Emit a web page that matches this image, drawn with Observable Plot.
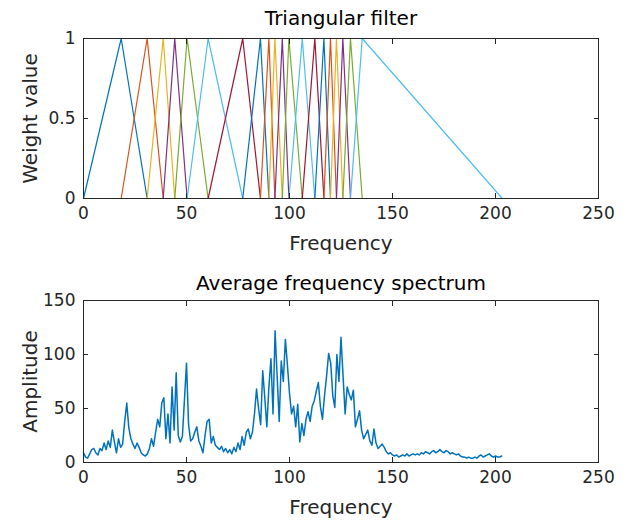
<!DOCTYPE html>
<html><head><meta charset="utf-8">
<script src="https://cdn.jsdelivr.net/npm/d3@7"></script>
<script src="https://cdn.jsdelivr.net/npm/@observablehq/plot@0.6"></script>
<style>body{margin:0;background:#fff} #chart svg{display:block}</style>
</head><body><div id="chart"></div>
<script>
// Triangular filter bank: peak frequencies (consecutive triangles)
const filterStart = 0;
const filterCenters = [18.3, 30.9, 38.7, 44.3, 50.3, 60.5, 77.3, 85.9, 90.0, 92.9,
  96.5, 99.7, 106.2, 112.3, 116.7, 119.9, 122.8, 125.9, 129.6, 135.3];
const filterEnd = 203.3;

// Average frequency spectrum, amplitude at frequency 0,1,2,...
const spectrumAmp = [
  9, 5, 4, 8, 12, 13, 9, 7, 13, 11,
  18, 12, 20, 14, 30, 19, 9, 22, 14, 17,
  38, 55, 32, 22, 17, 13, 18, 14, 9, 7,
  6, 8, 13, 22, 15, 28, 40, 33, 55, 60,
  22, 45, 18, 70, 30, 83, 25, 19, 24, 58,
  92, 35, 20, 22, 28, 33, 20, 15, 9, 25,
  38, 40, 18, 24, 16, 14, 12, 15, 10, 13,
  9, 12, 8, 14, 10, 18, 12, 24, 16, 28,
  31, 22, 28, 45, 68, 50, 35, 85, 60, 33,
  70, 96, 45, 122, 80, 38, 94, 75, 114, 90,
  64, 45, 52, 33, 54, 19, 36, 25, 40, 47,
  38, 52, 57, 66, 74, 52, 40, 62, 80, 101,
  92, 62, 51, 100, 75, 116, 80, 45, 70, 63,
  58, 67, 33, 40, 48, 30, 22, 26, 30, 20,
  16, 31, 18, 13, 15, 17, 14, 10, 8, 9,
  7, 6, 7, 5, 6, 7, 6, 8, 6, 7,
  8, 7, 8, 7, 9, 8, 10, 9, 8, 10,
  11, 9, 10, 12, 10, 9, 11, 10, 8, 9,
  8, 7, 8, 6, 5, 5, 4, 5, 4, 4,
  5, 4, 6, 7, 5, 6, 7, 8, 6, 5,
  6, 5, 5, 6
];

const xTicks = [0, 50, 100, 150, 200, 250];
const weightTicks = [0, 0.5, 1];
const ampTicks = [0, 50, 100, 150];
const matlabColors = ["#0072BD", "#D95319", "#EDB120", "#7E2F8E", "#77AC30", "#4DBEEE", "#A2142F"];

const edges = [filterStart, ...filterCenters, filterEnd];
const filterRows = [];
filterCenters.forEach((c, i) => {
  filterRows.push({f: edges[i], w: 0, id: i});
  filterRows.push({f: edges[i + 1], w: 1, id: i});
  filterRows.push({f: edges[i + 2], w: 0, id: i});
});
const spectrumRows = spectrumAmp.map((a, i) => ({f: i, a}));

const font = "DejaVu Sans, Liberation Sans, Arial, sans-serif";
const ink = "#262626";
const fmt = d => String(d);

function axes(yTicks, yLabel, title, titleDy) {
  return [
    Plot.frame({stroke: ink, strokeWidth: 1}),
    Plot.axisX(xTicks, {anchor: "bottom", tickSize: -5, tickPadding: 13, fontSize: 17, fill: ink, stroke: ink,
      tickFormat: fmt, label: null}),
    Plot.axisX(xTicks, {anchor: "top", tickSize: -5, tickFormat: () => "", label: null, stroke: ink}),
    Plot.axisY(yTicks, {anchor: "left", tickSize: -5, tickPadding: 13, fontSize: 17, fill: ink, stroke: ink,
      tickFormat: fmt, label: null}),
    Plot.axisY(yTicks, {anchor: "right", tickSize: -5, tickFormat: () => "", label: null, stroke: ink}),
    Plot.text(["Frequency"], {frameAnchor: "bottom", dy: 45, lineAnchor: "middle", fontSize: 20, fill: ink}),
    Plot.text([yLabel], {frameAnchor: "left", dx: -53, rotate: -90, textAnchor: "middle", lineAnchor: "middle", fontSize: 20, fill: ink}),
    Plot.text([title], {frameAnchor: "top", dy: titleDy, lineAnchor: "middle", fontSize: 20, fill: "#000"})
  ];
}

const topChart = Plot.plot({
  width: 634, height: 262,
  marginTop: 38, marginBottom: 64, marginLeft: 83, marginRight: 36,
  style: {fontFamily: font, fontSize: "17px", color: ink, background: "white"},
  x: {domain: [0, 250]},
  y: {domain: [0, 1]},
  color: {type: "ordinal", domain: d3.range(filterCenters.length),
    range: d3.range(filterCenters.length).map(i => matlabColors[i % 7])},
  marks: [
    Plot.line(filterRows, {x: "f", y: "w", z: "id", stroke: "id", strokeWidth: 1.2}),
    ...axes(weightTicks, "Weight value", "Triangular filter", -20)
  ]
});

const bottomChart = Plot.plot({
  width: 634, height: 263,
  marginTop: 38, marginBottom: 63, marginLeft: 83, marginRight: 36,
  style: {fontFamily: font, fontSize: "17px", color: ink, background: "white"},
  x: {domain: [0, 250]},
  y: {domain: [0, 150]},
  marks: [
    Plot.line(spectrumRows, {x: "f", y: "a", stroke: "#0072BD", strokeWidth: 1.5}),
    ...axes(ampTicks, "Amplitude", "Average frequency spectrum", -17)
  ]
});

document.getElementById("chart").append(topChart, bottomChart);
</script>
</body></html>
